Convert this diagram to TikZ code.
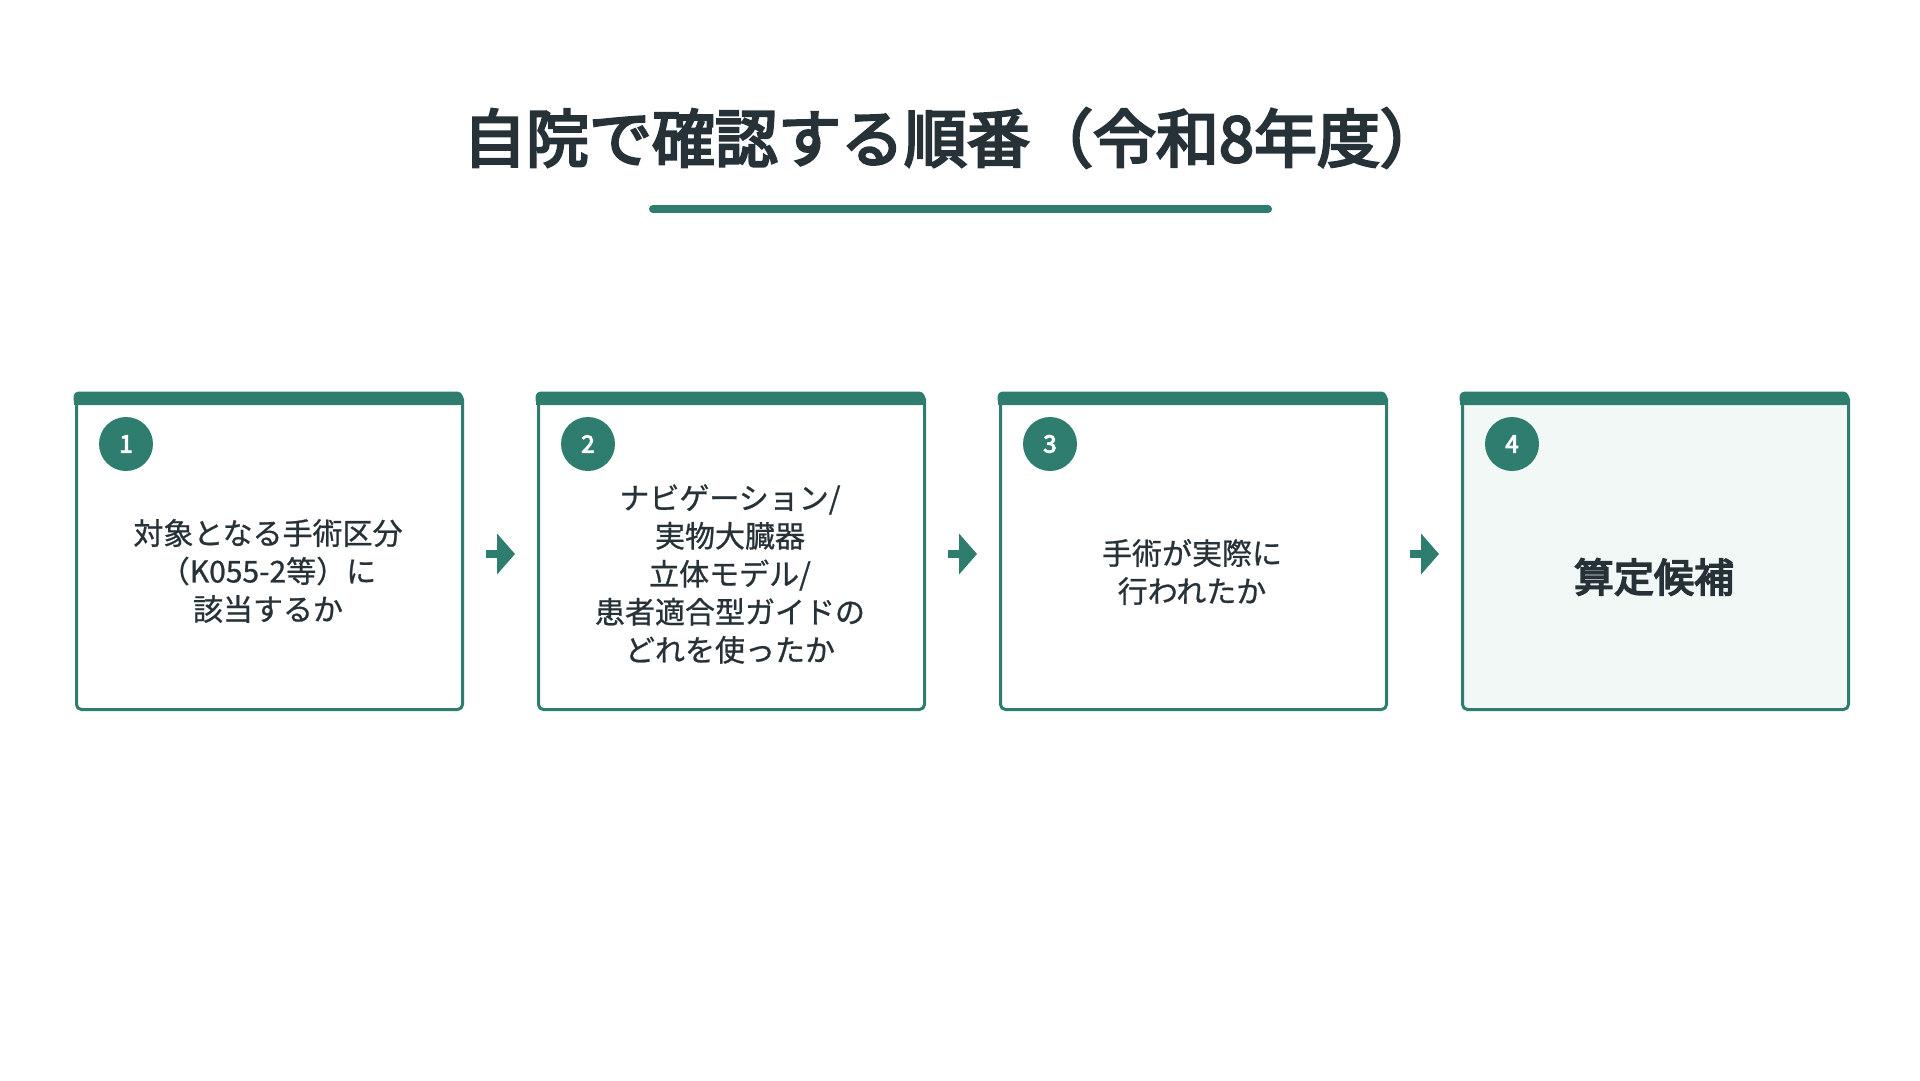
\documentclass[tikz,border=0pt]{standalone}
\usetikzlibrary{arrows.meta}
\usepackage{fontspec}
\setmainfont{Noto Sans CJK JP}[FakeBold=0.8]
\newfontfamily\cjkb{Noto Sans CJK JP}[FakeBold=4]
\definecolor{gr}{HTML}{2E7D6E}
\definecolor{tx}{HTML}{263238}
\definecolor{lt}{HTML}{F2F8F6}
\begin{document}
\begin{tikzpicture}[x=1pt,y=-1pt,
 box/.style={draw=gr,line width=3pt,rounded corners=5pt,minimum width=386pt,minimum height=315pt,anchor=north west,inner sep=0pt},
 num/.style={circle,fill=gr,minimum size=54pt,inner sep=0pt,text=white,font=\cjkb\fontsize{24}{24}\selectfont},
 lab/.style={align=center,text=tx,font=\fontsize{30}{38}\selectfont},
 arr/.style={-{Triangle[length=18pt,width=40pt]},gr,line width=8pt}]
\useasboundingbox (0,0) rectangle (1920,1080);
\fill[white] (0,0) rectangle (1920,1080);
\node[text=tx,font=\cjkb\fontsize{63}{63}\selectfont] (title) at (953,138) {自院で確認する順番（令和8年度）};
\draw[gr,line width=8pt,line cap=round] (653,209) -- (1268,209);
\foreach \i/\x in {1/75,2/537,3/999,4/1461}{
 \ifnum\i=4 \node[box,fill=lt] (b\i) at (\x,393) {};\else \node[box,fill=white] (b\i) at (\x,393) {};\fi
 \fill[gr,rounded corners=5pt] (\x-1.5,391.5) rectangle (\x+387.5,405);
 \fill[gr] (\x-1.5,398) rectangle (\x+387.5,405);
 \node[num] (n\i) at (\x+51,444) {\i};
}
\node[lab] (t1) at (268,571) {対象となる手術区分\\（K055-2等）に\\該当するか};
\node[lab] (t2) at (730,574) {ナビゲーション/\\実物大臓器\\立体モデル/\\患者適合型ガイドの\\どれを使ったか};
\node[lab] (t3) at (1192,572) {手術が実際に\\行われたか};
\node[text=tx,font=\cjkb\fontsize{40}{40}\selectfont] (t4) at (1654,577) {算定候補};
\foreach \a/\b in {1/2,2/3,3/4}{
 \coordinate (s\a) at ([xshift=22pt,yshift=157pt]b\a.south east);
 \coordinate (e\a) at ([xshift=-22pt,yshift=157pt]b\b.south west);
 \draw[arr] (s\a) -- (e\a);
}
\end{tikzpicture}
\end{document}
